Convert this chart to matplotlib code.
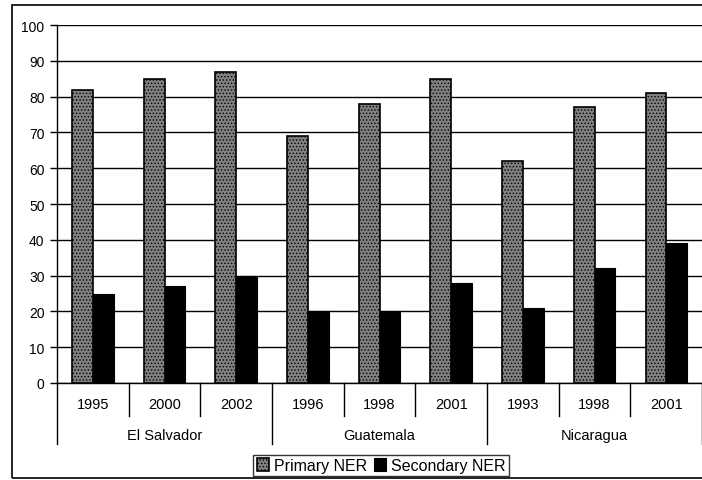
import matplotlib.pyplot as plt
import matplotlib.patches as mpatches
import matplotlib.transforms as mtrans
import numpy as np

plt.rcParams['font.family'] = ['Liberation Sans', 'DejaVu Sans']
plt.rcParams['hatch.linewidth'] = 0.6

countries = ["El Salvador", "Guatemala", "Nicaragua"]
years = ["1995", "2000", "2002", "1996", "1998", "2001", "1993", "1998", "2001"]
group_sizes = [3, 3, 3]
primary = [82, 85, 87, 69, 78, 85, 62, 77, 81]
secondary = [25, 27, 30, 20, 20, 28, 21, 32, 39]

fig = plt.figure(figsize=(7.02, 4.81), dpi=100)
ax = fig.add_axes([0.0812, 0.2017, 0.919, 0.744])

x = np.arange(len(years))
w = 0.29
ax.bar(x - w / 2, primary, w, facecolor='#808080', edgecolor='black',
       hatch='.....', linewidth=1.2, label='Primary NER', zorder=3)
ax.bar(x + w / 2, secondary, w, facecolor='black', edgecolor='black',
       linewidth=0.8, label='Secondary NER', zorder=3)

ax.set_xlim(-0.5, len(years) - 0.5)
ax.set_ylim(0, 100)
ax.set_yticks(range(0, 101, 10))
ax.yaxis.grid(True, color='black', linewidth=1.0)
ax.set_axisbelow(True)
ax.tick_params(axis='y', labelsize=10, length=5, width=1, direction='out', pad=4)
ax.set_xticks([])
for s in ['top', 'right']:
    ax.spines[s].set_visible(False)
ax.spines['left'].set_linewidth(1.0)
ax.spines['bottom'].set_linewidth(1.0)

# two-level category axis
trans = mtrans.blended_transform_factory(ax.transData, ax.transAxes)
for i, yr in enumerate(years):
    ax.text(i, -0.059, yr, transform=trans, ha='center', va='center', fontsize=10.5)
start = 0
bounds = [-0.5]
for c, n in zip(countries, group_sizes):
    ax.text(start + (n - 1) / 2, -0.145, c, transform=trans, ha='center',
            va='center', fontsize=10.5)
    start += n
    bounds.append(start - 0.5)
for i in range(len(years) + 1):
    xb = i - 0.5
    y_end = -0.170 if xb in bounds else -0.092
    ax.plot([xb, xb], [0, y_end], transform=trans, color='black', lw=1.0,
            clip_on=False)

leg = fig.legend(loc='center', bbox_to_anchor=(0.543, 0.03), ncol=2,
                 fontsize=11.5, frameon=True, fancybox=False, handlelength=0.8,
                 handleheight=0.8, handletextpad=0.3, columnspacing=0.4,
                 borderpad=0.2, borderaxespad=0)
leg.get_frame().set_edgecolor('black')
leg.get_frame().set_linewidth(1.0)

border = mpatches.Rectangle((0.017, 0.004), 1.0, 0.983, transform=fig.transFigure,
                            fill=False, edgecolor='black', linewidth=1.2)
fig.patches.append(border)

fig.savefig('out.png', dpi=100)
